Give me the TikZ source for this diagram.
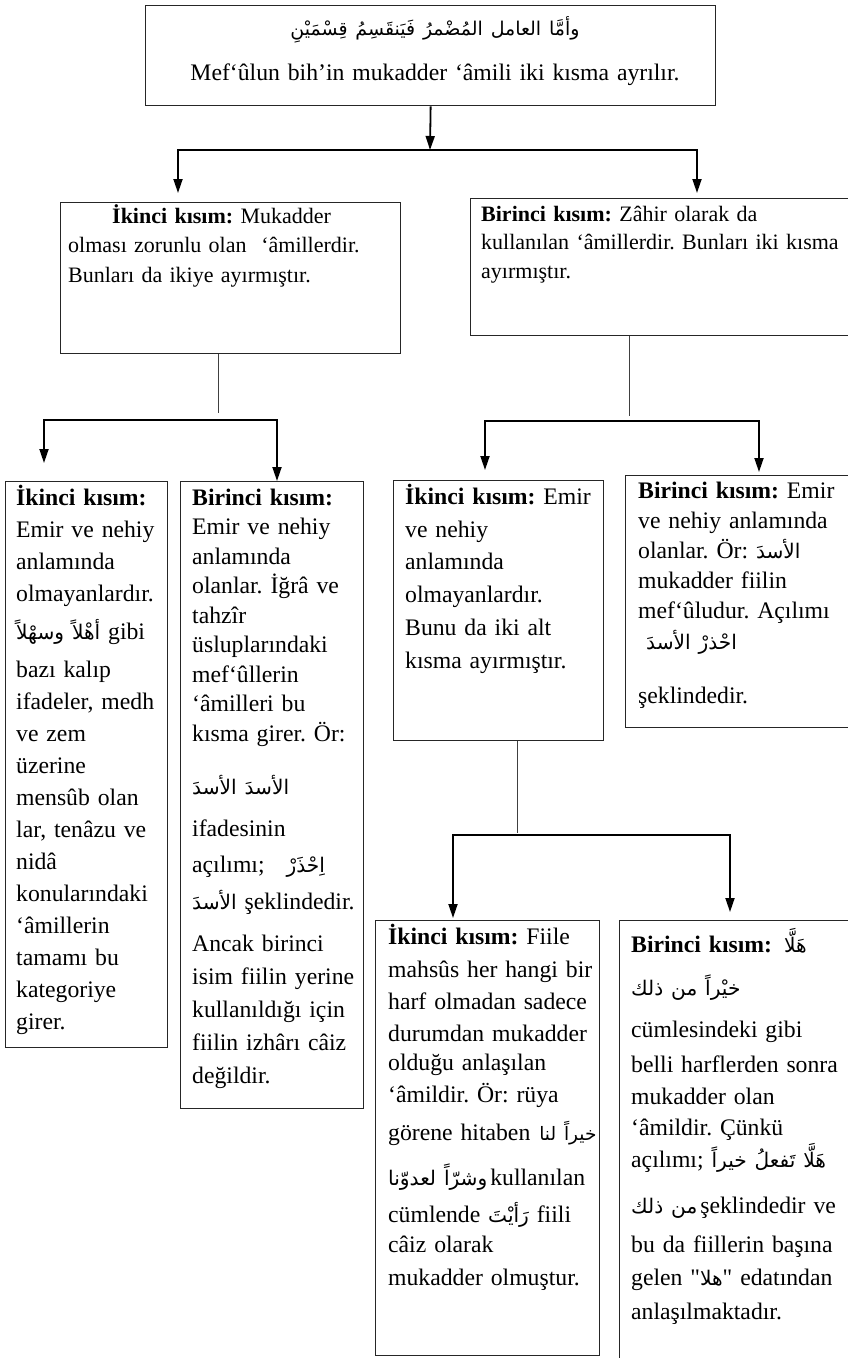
\documentclass[tikz,border=0pt]{standalone}
\usepackage{fontspec}
\setmainfont{Liberation Serif}[Ligatures=TeXOff]
\newfontfamily\arfont[Script=Arabic,Scale=0.85]{DejaVu Sans}
\newfontfamily\arfonttop[Script=Arabic,Scale=0.8]{DejaVu Sans}
\newfontfamily\arfontsm[Script=Arabic,Scale=0.78]{DejaVu Sans}
\TeXXeTstate=1
\newcommand{\AR}[1]{{\arfont\beginR #1\endR}}
\newcommand{\ARtop}[1]{{\arfonttop\beginR #1\endR}}
\newcommand{\ARsm}[1]{{\arfontsm\beginR #1\endR}}
\usetikzlibrary{arrows.meta}
\begin{document}
\begin{tikzpicture}[x=1pt,y=-1pt,
  box/.style={draw=black!85, line width=1.3pt, anchor=north west, inner sep=0pt},
  txt/.style={anchor=north west, inner sep=0pt, align=left, text width=#1},
  txt/.default=240,
  fs/.style={font={\fontsize{23.7}{#1}\selectfont\frenchspacing\lineskiplimit=-100pt\lineskip=0pt}},
  fsa/.style={font={\fontsize{22}{#1}\selectfont\frenchspacing\lineskiplimit=-100pt\lineskip=0pt}},
  arr/.style={-{Triangle[length=14pt,width=9pt]}, line width=1.8pt},
  stem/.style={line width=1pt, draw=black!75}]
\useasboundingbox[fill=white] (0,0) rectangle (847,1358);

% boxes
\node[box, minimum width=570, minimum height=100] (top) at (145,5) {};
\node[box, minimum width=340, minimum height=151] (A) at (60,202) {};
\node[box, minimum width=378, minimum height=137] (B) at (470,198) {};
\node[box, minimum width=162, minimum height=566] (C) at (5,481) {};
\node[box, minimum width=183, minimum height=627] (D) at (180,481) {};
\node[box, minimum width=210, minimum height=260] (E) at (393,480) {};
\node[box, minimum width=223, minimum height=252] (F) at (625,475) {};
\node[box, minimum width=224, minimum height=435] (G) at (375,920) {};
\node[box, minimum width=229, minimum height=445] (H) at (619,920) {};

% texts
\node[anchor=north, inner sep=0pt, align=center, text width=560, fs=45] (topT) at (435,11)
 {\rule{0pt}{24pt}\ARtop{وأمَّا العامل المُضْمرُ فَيَنقَسِمُ قِسْمَيْنِ}\\
  Mef‘ûlun bih’in mukadder ‘âmili iki kısma ayrılır.};

\node[txt=330, fsa=29.5] (AT) at (68,199)
 {\rule{0pt}{24pt}\hspace*{44pt}\textbf{İkinci kısım:} Mukadder\\
  olması zorunlu olan\ \ ‘âmillerdir.\\
  Bunları da ikiye ayırmıştır.};

\node[txt=375, fsa=28.5] (BT) at (481,197)
 {\rule{0pt}{24pt}\textbf{Birinci kısım:} Zâhir olarak da\\
  kullanılan ‘âmillerdir. Bunları iki kısma\\
  ayırmıştır.};

\node[txt=200, fs=32] (CT) at (16,481)
 {\rule{0pt}{24pt}\textbf{İkinci kısım:}\\
  Emir ve nehiy\\
  anlamında\\
  olmayanlardır.\\[6pt]
  \AR{أهْلاً وسهْلاً} gibi\\[6pt]
  bazı kalıp\\
  ifadeler, medh\\
  ve zem\\
  üzerine\\
  mensûb olan\\
  lar, tenâzu ve\\
  nidâ\\
  konularındaki\\
  ‘âmillerin\\
  tamamı bu\\
  kategoriye\\
  girer.};

\node[txt=220, fs=29.5] (DT) at (192,481)
 {\rule{0pt}{24pt}\textbf{Birinci kısım:}\\
  Emir ve nehiy\\
  anlamında\\
  olanlar. İğrâ ve\\
  tahzîr\\
  üsluplarındaki\\
  mef‘ûllerin\\
  ‘âmilleri bu\\
  kısma girer. Ör:\\[24pt]
  \AR{الأسدَ الأسدَ}\\[12pt]
  ifadesinin\\[6.5pt]
  açılımı;\hspace{22pt}\AR{اِحْذَرْ}\\[7.5pt]
  \AR{الأسدَ} şeklindedir.\\[12.5pt]
  Ancak birinci\\[3.5pt]
  isim fiilin yerine\\[3.5pt]
  kullanıldığı için\\[3.5pt]
  fiilin izhârı câiz\\[3.5pt]
  değildir.};

\node[txt=240, fs=32.8] (ET) at (405,480)
 {\rule{0pt}{24pt}\textbf{İkinci kısım:} Emir\\
  ve nehiy\\
  anlamında\\
  olmayanlardır.\\
  Bunu da iki alt\\
  kısma ayırmıştır.};

\node[txt=250, fs=30] (FT) at (638,474)
 {\rule{0pt}{24pt}\textbf{Birinci kısım:} Emir\\
  ve nehiy anlamında\\
  olanlar. Ör: \AR{الأسدَ}\\
  mukadder fiilin\\
  mef‘ûludur. Açılımı\\[1pt]
  \hspace*{8pt}\AR{احْذرْ الأسدَ}\\[24pt]
  şeklindedir.};

\node[txt=270, fs=32] (GT) at (388,920)
 {\rule{0pt}{24pt}\textbf{İkinci kısım:} Fiile\\[1pt]
  mahsûs her hangi bir\\
  harf olmadan sadece\\
  durumdan mukadder\\[-3pt]
  olduğu anlaşılan\\
  ‘âmildir. Ör: rüya\\[6pt]
  görene hitaben\hspace{9pt}\ARsm{خيراً لنا}\\[13pt]
  \AR{وشرّاً لعدوّنا}\hspace{3pt}kullanılan\\[5pt]
  cümlende \AR{رَأيْتَ} fiili\\[-2pt]
  câiz olarak\\[1pt]
  mukadder olmuştur.};

\node[txt=270, fs=33] (HT) at (631,928)
 {\rule{0pt}{24pt}\textbf{Birinci kısım:}\hspace{12pt}\AR{هَلَّا}\\[10pt]
  \AR{خيْراً من ذلك}\\[9pt]
  cümlesindeki gibi\\[2pt]
  belli harflerden sonra\\[-1pt]
  mukadder olan\\[-2pt]
  ‘âmildir. Çünkü\\[-1pt]
  açılımı;\hspace{8pt}\AR{هَلَّا تَفعلُ خيراً}\\[13pt]
  \AR{من ذلك}\hspace{3pt}şeklindedir ve\\[6pt]
  bu da fiillerin başına\\
  gelen "\AR{هلا}" edatından\\[1pt]
  anlaşılmaktadır.};

% connector coordinates
\coordinate (f0) at (430,150);
\coordinate (xA) at (178,0);
\coordinate (xB) at (697,0);
\coordinate (sA) at (218,413);
\coordinate (mA) at (218,420);
\coordinate (xC) at (44,0);
\coordinate (xD) at (277,0);
\coordinate (sB) at (629,416);
\coordinate (mB) at (629,421);
\coordinate (xE) at (485,0);
\coordinate (xF) at (759,0);
\coordinate (sE) at (517,833);
\coordinate (mE) at (517,835);
\coordinate (xG) at (453,0);
\coordinate (xH) at (730,0);

% connectors
\draw[arr] (top.south) -- (f0);
\draw[arr, shorten >=9pt] (f0) -| (A.north -| xA);
\draw[arr, shorten >=5pt] (f0) -| (B.north -| xB);

\draw[stem] (A.south -| sA) -- (sA);
\draw[arr, shorten >=18pt] (mA) -| (C.north -| xC);
\draw[arr] (mA) -| (D.north -| xD);

\draw[stem] (B.south -| sB) -- (sB);
\draw[arr, shorten >=10pt] (mB) -| (E.north -| xE);
\draw[arr, shorten >=3pt] (mB) -| (F.north -| xF);

\draw[stem] (E.south -| sE) -- (sE);
\draw[arr, shorten >=2pt] (mE) -| (G.north -| xG);
\draw[arr, shorten >=8pt] (mE) -| (H.north -| xH);
\end{tikzpicture}
\end{document}
